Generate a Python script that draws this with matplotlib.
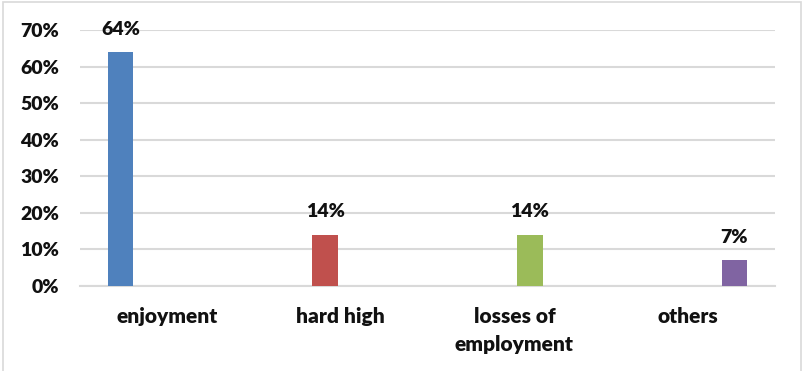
import matplotlib.pyplot as plt
from matplotlib.patches import Rectangle
import numpy as np

categories = ['enjoyment', 'hard high', 'losses of\nemployment', 'others']
values = [0.64, 0.14, 0.14, 0.07]
value_labels = ['64%', '14%', '14%', '7%']
colors = ['#4F81BD', '#C0504D', '#9BBB59', '#8064A2']
y_ticks = [0, 0.1, 0.2, 0.3, 0.4, 0.5, 0.6, 0.7]

plt.rcParams['font.family'] = ['Lato', 'DejaVu Sans']
plt.rcParams['font.weight'] = 'bold'
fs = 14

fig = plt.figure(figsize=(8.03, 3.71), dpi=100)
ax = fig.add_axes([0.0996, 0.229, 0.8655, 0.690])

# clustered layout: each series has a value only in its own category
n = len(categories)
width = 0.147
step = 0.178
x = np.arange(n)
for i in range(n):
    offset = (i - (n - 1) / 2) * step
    ax.bar(x[i] + offset, values[i], width=width, color=colors[i], zorder=3)
    ax.annotate(value_labels[i], (x[i] + offset, values[i]), xytext=(0, 16.5),
                textcoords='offset points', ha='center', va='center',
                fontsize=fs, fontweight='heavy', color='#111111')

ax.set_xlim(-0.5, n - 0.5)
ax.set_ylim(0, 0.7)
ax.set_yticks(y_ticks)
ax.set_yticklabels([f'{int(round(t * 100))}%' for t in y_ticks])
ax.set_xticks(x)
ax.set_xticklabels(categories, linespacing=1.6)
ax.tick_params(axis='both', length=0, labelsize=fs, labelcolor='#111111')
ax.tick_params(axis='x', pad=15, labelsize=15)
ax.tick_params(axis='y', pad=15)
for t in ax.get_xticklabels() + ax.get_yticklabels():
    t.set_fontweight('heavy')

ax.grid(axis='y', color='#d9d9d9', linewidth=1.5, zorder=0)
for s in ['top', 'right', 'left']:
    ax.spines[s].set_visible(False)
ax.spines['bottom'].set_color('#d9d9d9')
ax.spines['bottom'].set_linewidth(1.5)

fig.patches.append(Rectangle((0.004, -0.01), 0.994, 1.004, transform=fig.transFigure,
                             fill=False, edgecolor='#d9d9d9', linewidth=1.2))

fig.savefig('out.png', dpi=100)
